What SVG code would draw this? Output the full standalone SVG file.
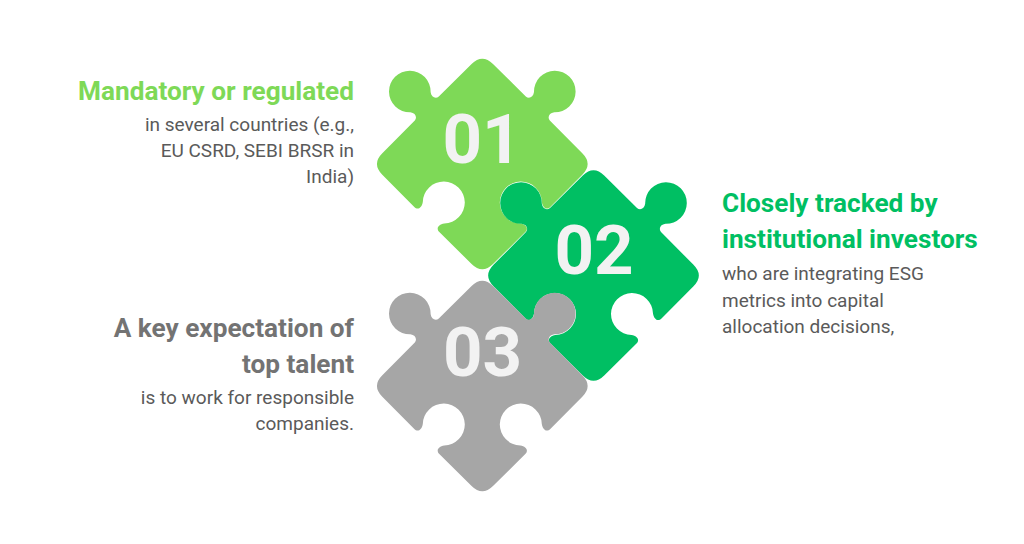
<svg xmlns="http://www.w3.org/2000/svg" width="1024" height="544" viewBox="0 0 1024 544">
<style>
text{font-family:Roboto,"Liberation Sans",sans-serif}
.num{font-size:69px;font-weight:700;fill:#f2f2f2;text-anchor:middle}
.t{font-size:26.2px;font-weight:700}
.b{font-size:19px;fill:#5a5a5a}
.e{text-anchor:end}
</style>
<defs>
<path id="piece" d="M-100 10.7Q-110.7 0-100-10.7L-67.5-43.5C-65-46.5-66.5-51-72-51.7A20.8 20.8 0 1 1-51.7-72C-51-66.5-46.5-65-43.5-67.5L-10.7-100Q0-110.7 10.7-100L43.5-67.5C46.5-65 51-66.5 51.7-72A20.8 20.8 0 1 1 72-51.7C66.5-51 65-46.5 67.5-43.5L100-10.7Q110.7 0 100 10.7L68 43C64.5 46.5 60.5 44 59.5 38A21 21 0 1 0 38 59.5C44 60.5 46.5 64.5 43 68L10.7 100Q0 110.7-10.7 100L-43 68C-46.5 64.5-44 60.5-38 59.5A21 21 0 1 0-59.5 38C-60.5 44-64.5 46.5-68 43Z"/>
</defs>
<g id="node-01">
<use href="#piece" transform="translate(482.3 164)" fill="#7ed957"/>
<text class="num" x="482" y="163">01</text>
<text class="t e" x="354" y="100" fill="#7ed957">Mandatory or regulated</text>
<text class="b e" x="354" y="131">in several countries (e.g.,</text>
<text class="b e" x="354" y="157">EU CSRD, SEBI BRSR in</text>
<text class="b e" x="354" y="183">India)</text>
</g>
<g id="node-02">
<use href="#piece" transform="translate(593.5 275.5)" fill="#00bf63"/>
<text class="num" x="594" y="274">02</text>
<text class="t" x="722" y="212" fill="#00bf63">Closely tracked by</text>
<text class="t" x="722" y="248" fill="#00bf63">institutional investors</text>
<text class="b" x="722" y="280">who are integrating ESG</text>
<text class="b" x="722" y="307">metrics into capital</text>
<text class="b" x="722" y="333">allocation decisions,</text>
</g>
<g id="node-03">
<use href="#piece" transform="translate(482.3 386)" fill="#a6a6a6"/>
<text class="num" x="482.5" y="376">03</text>
<text class="t e" x="354" y="337" fill="#737373">A key expectation of</text>
<text class="t e" x="354" y="373" fill="#737373">top talent</text>
<text class="b e" x="354" y="404">is to work for responsible</text>
<text class="b e" x="354" y="430">companies.</text>
</g>
<g id="connectors"/>
</svg>
